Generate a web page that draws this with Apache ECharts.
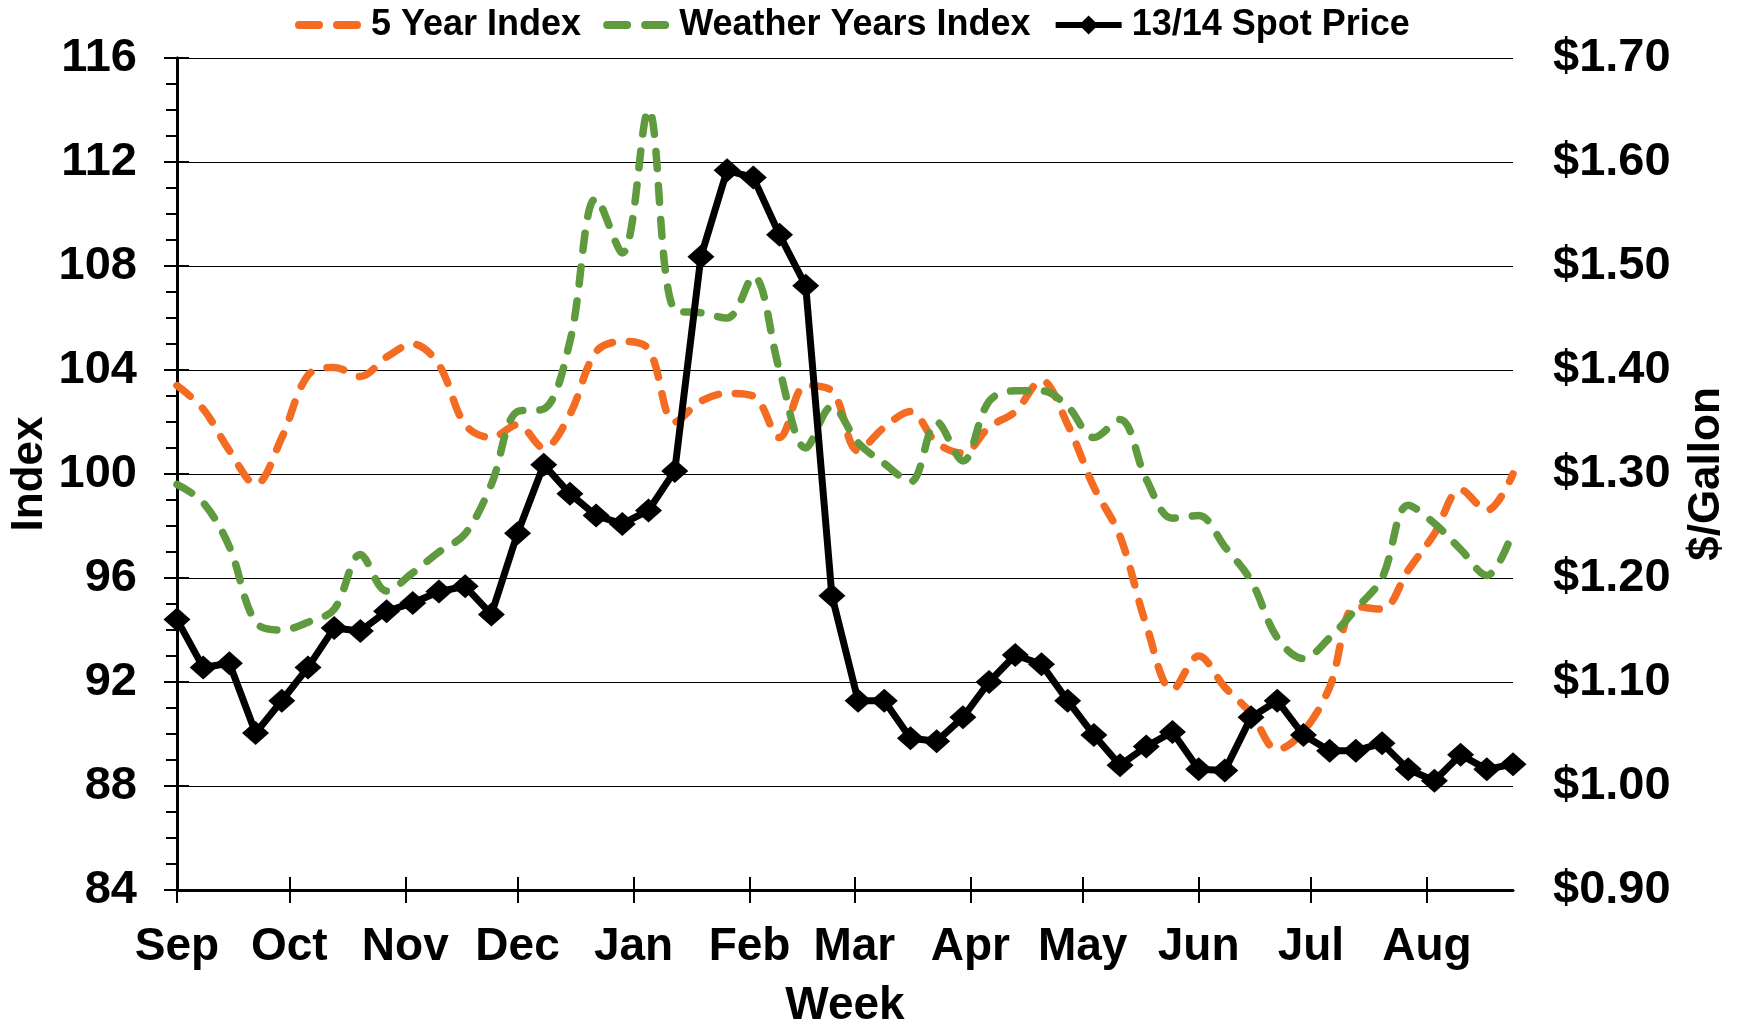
<!DOCTYPE html>
<html>
<head>
<meta charset="utf-8">
<title>Index vs Spot Price</title>
<script src="https://cdn.jsdelivr.net/npm/echarts@6/dist/echarts.min.js"></script>
<style>
  html, body { margin: 0; padding: 0; background: #fff; }
  #chart { width: 1738px; height: 1024px; }
</style>
</head>
<body>
<div id="chart"></div>
<script>
// days since Sep 1, one point per week
var weekDays = [0, 7, 14, 21, 28, 35, 42, 49, 56, 63, 70, 77, 84, 91, 98, 105, 112, 119, 126, 133,
  140, 147, 154, 161, 168, 175, 182, 189, 196, 203, 210, 217, 224, 231, 238, 245, 252, 259, 266, 273,
  280, 287, 294, 301, 308, 315, 322, 329, 336, 343, 350, 357];

var monthDays = [0, 30, 61, 91, 122, 153, 181, 212, 242, 273, 303, 334];
var monthNames = ['Sep', 'Oct', 'Nov', 'Dec', 'Jan', 'Feb', 'Mar', 'Apr', 'May', 'Jun', 'Jul', 'Aug'];

var fiveYearIndex = [103.4, 102.5, 100.9, 99.6, 101.4, 103.8, 104.1, 103.75, 104.5, 105.0,
  104.2, 101.9, 101.4, 101.9, 101.0, 102.3, 104.7, 105.1, 104.8, 102.0,
  102.8, 103.1, 103.0, 101.4, 103.4, 103.2, 100.9, 101.8, 102.4, 101.2,
  100.8, 101.8, 102.4, 103.6, 101.9, 99.5, 97.6, 94.2, 91.7, 93.0,
  91.8, 90.8, 89.4, 90.1, 91.8, 94.9, 94.8, 96.3, 97.7, 99.4,
  98.6, 100.0];

var weatherYearsIndex = [99.6, 98.9, 97.2, 94.3, 94.0, 94.3, 94.8, 96.9, 95.5, 96.2,
  97.0, 97.7, 99.6, 102.4, 102.5, 105.1, 110.6, 108.5, 114.0, 106.3,
  106.2, 106.0, 107.6, 104.0, 101.0, 102.6, 101.2, 100.4, 99.7, 102.0,
  100.5, 102.8, 103.2, 103.2, 102.6, 101.4, 102.1, 99.8, 98.3, 98.4,
  97.2, 95.9, 93.7, 92.9, 93.7, 94.8, 96.0, 98.8, 98.1, 97.1,
  96.1, 97.8];

var spotPrice = [1.160, 1.114, 1.118, 1.051, 1.082, 1.114, 1.152, 1.149, 1.168, 1.176,
  1.187, 1.192, 1.165, 1.243, 1.309, 1.281, 1.260, 1.252, 1.265, 1.303,
  1.509, 1.592, 1.585, 1.530, 1.481, 1.183, 1.082, 1.082, 1.046, 1.043,
  1.066, 1.100, 1.126, 1.117, 1.082, 1.049, 1.020, 1.038, 1.052, 1.016,
  1.015, 1.066, 1.082, 1.049, 1.034, 1.034, 1.041, 1.016, 1.005, 1.030,
  1.016, 1.021];

function pairs(values) {
  return values.map(function (v, i) { return [weekDays[i], v]; });
}

var font = 'Liberation Sans, Arial, sans-serif';
// two rounded dashes for the dashed series in the legend
var dashIcon = 'path://M4,0h20a4,4 0 0 1 0,8h-20a4,4 0 0 1 0,-8z M42,0h20a4,4 0 0 1 0,8h-20a4,4 0 0 1 0,-8z';

var chart = echarts.init(document.getElementById('chart'));

chart.setOption({
  animation: false,
  backgroundColor: '#fff',
  textStyle: { fontFamily: font },
  legend: {
    top: 2,
    left: 290,
    itemGap: 22,
    itemWidth: 66,
    itemHeight: 24,
    textStyle: { fontSize: 36, fontWeight: 'bold', color: '#000', fontFamily: font, padding: [0, 0, 0, 5] },
    data: [
      { name: '5 Year Index', icon: dashIcon },
      { name: 'Weather Years Index', icon: dashIcon },
      { name: '13/14 Spot Price', lineStyle: { width: 6 } }
    ]
  },
  grid: { left: 177, right: 225, top: 58, bottom: 134, containLabel: false, outerBoundsMode: 'none' },
  xAxis: [
    {
      type: 'value',
      min: 0,
      max: 357,
      name: 'Week',
      nameLocation: 'middle',
      nameGap: 93,
      nameTextStyle: { fontSize: 46, fontWeight: 'bold', color: '#000' },
      axisLine: { show: true, lineStyle: { color: '#000', width: 3 } },
      axisTick: { show: true, inside: false, length: 13, customValues: monthDays, lineStyle: { color: '#000', width: 2 } },
      axisLabel: {
        customValues: monthDays,
        margin: 34,
        fontSize: 46,
        fontWeight: 'bold',
        color: '#000',
        formatter: function (v) { return monthNames[monthDays.indexOf(v)] || ''; }
      },
      splitLine: { show: false }
    },
    {
      type: 'value',
      min: 0,
      max: 357,
      position: 'bottom',
      axisLine: { show: false },
      axisTick: { show: true, inside: true, length: 13, customValues: monthDays, lineStyle: { color: '#000', width: 2 } },
      axisLabel: { show: false },
      splitLine: { show: false }
    }
  ],
  yAxis: [
    {
      type: 'value',
      min: 84,
      max: 116,
      interval: 4,
      name: 'Index',
      nameLocation: 'middle',
      nameRotate: 90,
      nameGap: 125,
      nameMoveOverlap: false,
      nameTextStyle: { fontSize: 44, fontWeight: 'bold', color: '#000' },
      axisLine: { show: true, lineStyle: { color: '#000', width: 3 } },
      axisTick: { show: true, length: 13, lineStyle: { color: '#000', width: 2 } },
      minorTick: { show: true, splitNumber: 4, length: 11, lineStyle: { color: '#000', width: 2 } },
      axisLabel: { margin: 40, fontSize: 47, fontWeight: 'bold', color: '#000' },
      splitLine: { show: true, lineStyle: { color: '#000', width: 1 } }
    },
    {
      type: 'value',
      min: 0.9,
      max: 1.7,
      interval: 0.1,
      position: 'right',
      name: '$/Gallon',
      nameLocation: 'middle',
      nameRotate: 90,
      nameGap: 172,
      nameTextStyle: { fontSize: 44, fontWeight: 'bold', color: '#000' },
      axisLine: { show: true, lineStyle: { color: '#000', width: 3 } },
      axisTick: { show: true, length: 12, lineStyle: { color: '#000', width: 2 } },
      axisLabel: {
        margin: 40,
        fontSize: 47,
        fontWeight: 'bold',
        color: '#000',
        formatter: function (v) { return '$' + v.toFixed(2); }
      },
      splitLine: { show: false }
    }
  ],
  series: [
    {
      name: '5 Year Index',
      type: 'line',
      yAxisIndex: 0,
      data: pairs(fiveYearIndex),
      smooth: 0.35,
      symbol: 'none',
      itemStyle: { color: '#F36C21' },
      lineStyle: { color: '#F36C21', width: 7.5, type: [17, 17], cap: 'round' },
      z: 2
    },
    {
      name: 'Weather Years Index',
      type: 'line',
      yAxisIndex: 0,
      data: pairs(weatherYearsIndex),
      smooth: 0.35,
      symbol: 'none',
      itemStyle: { color: '#5F9A3E' },
      lineStyle: { color: '#5F9A3E', width: 7.5, type: [17, 17], cap: 'round' },
      z: 3
    },
    {
      name: '13/14 Spot Price',
      type: 'line',
      yAxisIndex: 1,
      data: pairs(spotPrice),
      symbol: 'diamond',
      symbolSize: [27, 24],
      itemStyle: { color: '#000' },
      lineStyle: { color: '#000', width: 7 },
      z: 4
    }
  ]
});
</script>
</body>
</html>
